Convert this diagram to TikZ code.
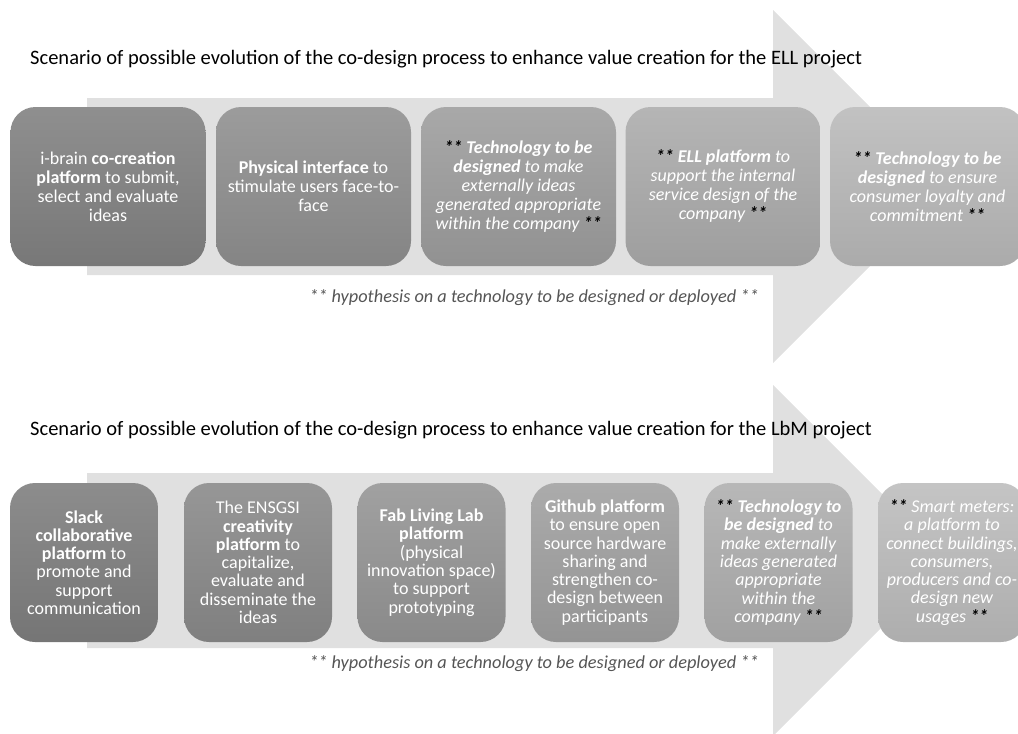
\documentclass[tikz,border=0pt]{standalone}
\usepackage{fontspec}
\setmainfont{Carlito}
\definecolor{arrowgray}{HTML}{E0E0E0}
\definecolor{hypgray}{HTML}{555555}
\newcommand{\st}{\textcolor{black}{\textbf{**}}}
\begin{document}
\begin{tikzpicture}[x=1pt,y=-1pt,
  pbox/.style={rounded corners=25pt, minimum height=159pt, align=center, text=white,
     inner sep=0pt},
  tbox/.style={pbox, minimum width=195pt, font=\fontsize{18}{19}\selectfont},
  bbox/.style={pbox, minimum width=148pt, font=\fontsize{18}{18.3}\selectfont},
  tboxi/.style={tbox, font=\fontsize{18}{19}\selectfont\itshape},
  bboxi/.style={bbox, font=\fontsize{18}{18.3}\selectfont\itshape},
  shade/.style={top color=black!#1, bottom color=black!\the\numexpr#1+9\relax},
  ititle/.style={anchor=west, font=\fontsize{20.5}{24}\selectfont, inner sep=0pt},
  hyp/.style={font=\fontsize{18.3}{21}\selectfont\itshape, text=hypgray, inner sep=0pt},
  arrowshape/.style={fill=arrowgray, draw=none}]
\useasboundingbox (0,0) rectangle (1018,734);
\clip (0,0) rectangle (1018,734);
% arrows
\fill[arrowshape] (87,98) -- (773,98) -- (773,10) -- (949.5,186.5) -- (773,363) -- (773,275) -- (87,275) -- cycle;
\fill[arrowshape] (87,473) -- (773,473) -- (773,385) -- (948.5,560.5) -- (773,736) -- (773,648) -- (87,648) -- cycle;
% titles
\node[ititle] (t1) at (30,59) {Scenario of possible evolution of the co-design process to enhance value creation for the ELL project};
\node[ititle] (t2) at (30,430) {Scenario of possible evolution of the co-design process to enhance value creation for the LbM project};
% top boxes
\node[tbox, shade=44] (a1) at (108,186.5) {i-brain \textbf{co-creation}\\\textbf{platform} to submit,\\select and evaluate\\ideas};
\node[tbox, shade=39] (a2) at (313.5,186.5) {\textbf{Physical interface} to\\stimulate users face-to-\\face};
\node[tboxi, shade=34] (a3) at (518.5,186.5) {\st{} \textbf{Technology to be}\\\textbf{designed} to make\\externally ideas\\generated appropriate\\within the company \st};
\node[tboxi, shade=29] (a4) at (723,186.5) {\st{} \textbf{ELL platform} to\\support the internal\\service design of the\\company \st};
\node[tboxi, shade=24] (a5) at (927.5,186.5) {\st{} \textbf{Technology to be}\\\textbf{designed} to ensure\\consumer loyalty and\\commitment \st};
\node[hyp] (h1) at (534,298) {** hypothesis on a technology to be designed or deployed **};
% bottom boxes
\node[bbox, shade=45] (b1) at (84,562.5) {\textbf{Slack}\\\textbf{collaborative}\\\textbf{platform} to\\promote and\\support\\communication};
\node[bbox, shade=41] (b2) at (258,562.5) {The ENSGSI\\\textbf{creativity}\\\textbf{platform} to\\capitalize,\\evaluate and\\disseminate the\\ideas};
\node[bbox, shade=37] (b3) at (431.5,562.5) {\textbf{Fab Living Lab}\\\textbf{platform}\\(physical\\innovation space)\\to support\\prototyping};
\node[bbox, shade=33] (b4) at (605,562.5) {\textbf{Github platform}\\to ensure open\\source hardware\\sharing and\\strengthen co-\\design between\\participants};
\node[bboxi, shade=28] (b5) at (778.5,562.5) {\st{} \textbf{Technology to}\\\textbf{be designed} to\\make externally\\ideas generated\\appropriate\\within the\\company \st};
\node[bboxi, shade=23] (b6) at (952,562.5) {\st{} Smart meters:\\a platform to\\connect buildings,\\consumers,\\producers and co-\\design new\\usages \st};
\node[hyp] (h2) at (534,664) {** hypothesis on a technology to be designed or deployed **};
\end{tikzpicture}
\end{document}
